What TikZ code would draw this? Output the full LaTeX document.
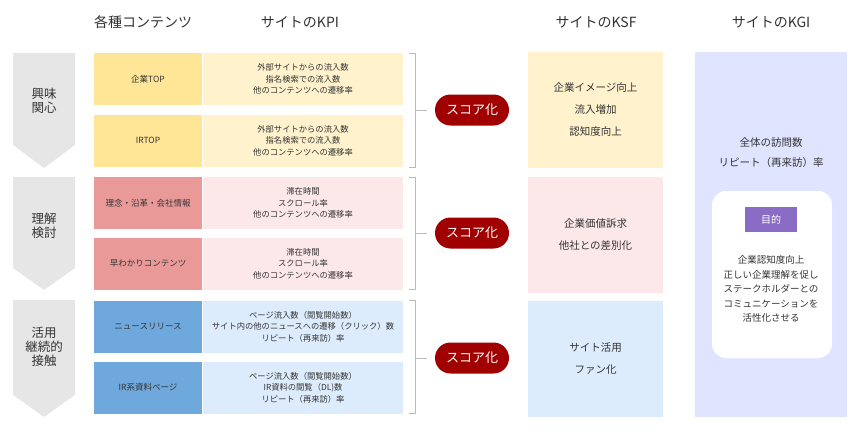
\documentclass[tikz,border=0pt]{standalone}
\usepackage{fontspec}
\setmainfont{Noto Sans CJK JP}
\definecolor{txt}{HTML}{333333}
\definecolor{ydark}{HTML}{FFE596}
\definecolor{ylight}{HTML}{FFF2CC}
\definecolor{pdark}{HTML}{EA9999}
\definecolor{plight}{HTML}{FDE8E9}
\definecolor{bdark}{HTML}{6FA8DC}
\definecolor{blight}{HTML}{DDECFC}
\definecolor{kgi}{HTML}{E1E4FF}
\definecolor{pill}{HTML}{A00000}
\definecolor{goal}{HTML}{8A6CC4}
\definecolor{stagegray}{HTML}{E6E6E6}
\definecolor{brack}{HTML}{BBBBBB}
\tikzset{
  head/.style={text=txt,font=\fontsize{14}{14}\selectfont},
  stage/.style={text=txt,align=center,font=\fontsize{12.5}{14}\selectfont},
  kind/.style={minimum width=108pt,minimum height=52pt,inner sep=0pt,text=txt,font=\fontsize{8.5}{11}\selectfont},
  kpi/.style={minimum width=200pt,minimum height=52pt,inner sep=0pt,align=center,text=txt,font=\fontsize{8.3}{11.5}\selectfont},
  ksf/.style={minimum width=135pt,minimum height=116pt,inner sep=0pt,align=center,text=txt,font=\fontsize{10.5}{22}\selectfont},
  score/.style={fill=pill,text=white,rounded corners=15.5pt,minimum width=74pt,minimum height=31pt,inner sep=0pt,font=\fontsize{13}{13}\selectfont},
  bracket/.style={draw=brack,line width=1pt}
}
\begin{document}
\begin{tikzpicture}[x=1pt,y=-1pt]
\useasboundingbox (0,0) rectangle (860,434);
% headers
\node[head] (h-kind) at (143,22) {各種コンテンツ};
\node[head] (h-kpi) at (300,22) {サイトのKPI};
\node[head] (h-ksf) at (596,22) {サイトのKSF};
\node[head] (h-kgi) at (771,22) {サイトのKGI};
% stages
\fill[stagegray] (13,53) -- (75,53) -- (75,145) -- (44,168) -- (13,145) -- cycle;
\fill[stagegray] (13,177) -- (75,177) -- (75,268) -- (44,290) -- (13,268) -- cycle;
\fill[stagegray] (13,300) -- (75,300) -- (75,395) -- (44,417) -- (13,395) -- cycle;
\node[stage] (s-interest) at (44,101) {興味\\関心};
\node[stage] (s-understand) at (44,226) {理解\\検討};
\node[stage] (s-use) at (44,347) {活用\\継続的\\接触};
% contents and KPI
\node[kind,fill=ydark] (top) at (148,79) {企業TOP};
\node[kpi,fill=ylight] (top-kpi) at (303,79) {外部サイトからの流入数\\指名検索での流入数\\他のコンテンツへの遷移率};
\node[kind,fill=ydark] (irtop) at (148,140.5) {IRTOP};
\node[kpi,fill=ylight] (irtop-kpi) at (303,140.5) {外部サイトからの流入数\\指名検索での流入数\\他のコンテンツへの遷移率};
\node[kind,fill=pdark] (rinen) at (148,203) {理念・沿革・会社情報};
\node[kpi,fill=plight] (rinen-kpi) at (303,203) {滞在時間\\スクロール率\\他のコンテンツへの遷移率};
\node[kind,fill=pdark] (hayawakari) at (148,263.5) {早わかりコンテンツ};
\node[kpi,fill=plight] (hayawakari-kpi) at (303,263.5) {滞在時間\\スクロール率\\他のコンテンツへの遷移率};
\node[kind,fill=bdark] (news) at (148,326.5) {ニュースリリース};
\node[kpi,fill=blight] (news-kpi) at (303,326.5) {ページ流入数（閲覧開始数）\\サイト内の他のニュースへの遷移（クリック）数\\リピート（再来訪）率};
\node[kind,fill=bdark] (irpage) at (148,387.5) {IR系資料ページ};
\node[kpi,fill=blight] (irpage-kpi) at (303,387.5) {ページ流入数（閲覧開始数）\\IR資料の閲覧（DL)数\\リピート（再来訪）率};
% brackets and scores
\draw[bracket] (409,53) -- (415,53) -- (415,167) -- (409,167);
\draw[bracket] (409,177) -- (415,177) -- (415,289) -- (409,289);
\draw[bracket] (409,300) -- (415,300) -- (415,413) -- (409,413);
\coordinate (b-interest) at (415,110);
\coordinate (b-understand) at (415,233);
\coordinate (b-use) at (415,358);
\node[score] (score-interest) at (472,110) {スコア化};
\node[score] (score-understand) at (472,233) {スコア化};
\node[score] (score-use) at (472,358) {スコア化};
\draw[bracket,shorten >=8pt] (b-interest) -- (score-interest.west);
\draw[bracket,shorten >=8pt] (b-understand) -- (score-understand.west);
\draw[bracket,shorten >=8pt] (b-use) -- (score-use.west);
% KSF
\node[ksf,fill=ylight] (ksf-interest) at (595.5,110) {企業イメージ向上\\流入増加\\認知度向上};
\node[ksf,fill=plight] (ksf-understand) at (595.5,235) {企業価値訴求\\他社との差別化};
\node[ksf,fill=blight] (ksf-use) at (595.5,358.5) {サイト活用\\ファン化};
% KGI
\node[fill=kgi,minimum width=152pt,minimum height=365pt,inner sep=0pt] (kgi-box) at (771,234.5) {};
\node[text=txt,align=center,font=\fontsize{10.5}{20}\selectfont] (kgi-text) at (771,153) {全体の訪問数\\リピート（再来訪）率};
\node[fill=white,rounded corners=14pt,minimum width=120pt,minimum height=167pt,inner sep=0pt] (goal-box) at (772,274.5) {};
\node[fill=goal,text=white,minimum width=52pt,minimum height=25pt,inner sep=0pt,font=\fontsize{10}{10}\selectfont] (goal-label) at (771,219.5) {目的};
\node[text=txt,align=center,font=\fontsize{9.5}{14.5}\selectfont] (goal-text) at (771,289) {企業認知度向上\\正しい企業理解を促し\\ステークホルダーとの\\コミュニケーションを\\活性化させる};
\end{tikzpicture}
\end{document}
